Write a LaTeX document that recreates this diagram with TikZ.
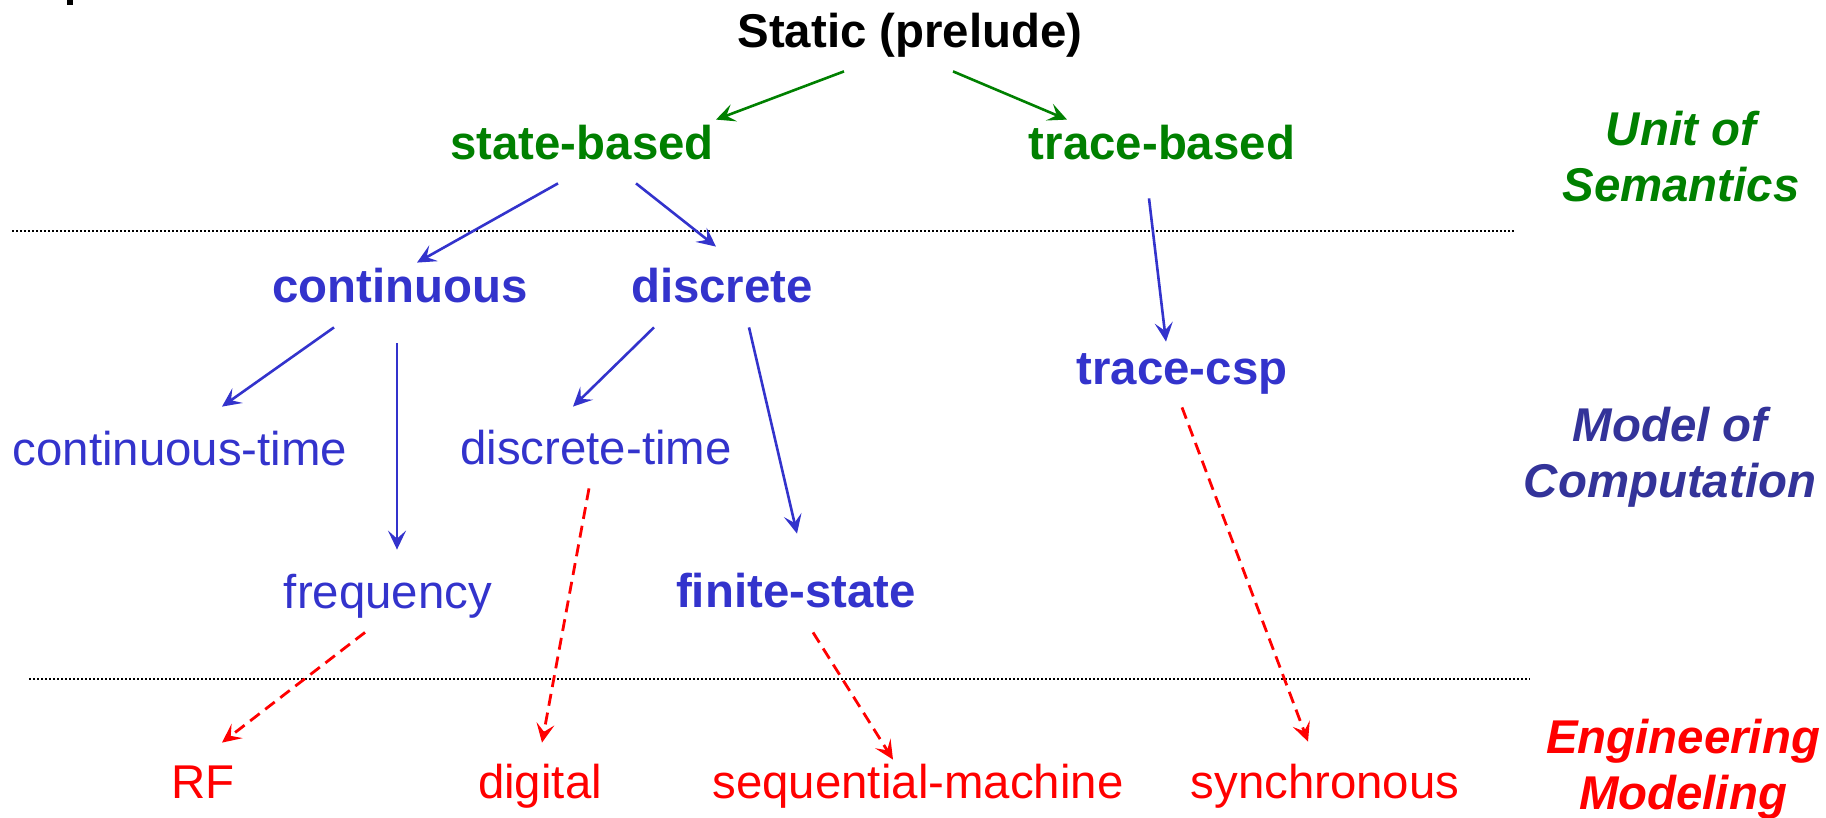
\documentclass[tikz,border=0pt]{standalone}
\usepackage{fontspec}
\setmainfont{Liberation Sans}
\usetikzlibrary{arrows.meta,calc}
\definecolor{semgreen}{RGB}{0,128,0}
\definecolor{mocblue}{RGB}{51,51,204}
\definecolor{mocdark}{RGB}{51,51,153}
\definecolor{engred}{RGB}{255,0,0}
\newcommand{\bigfont}{\fontsize{23.7}{28}\selectfont}

\begin{document}
\begin{tikzpicture}[x=0.5pt,y=-0.5pt,
  term/.style={font=\bigfont,inner sep=0pt,text height=17pt,text depth=5pt,anchor=base},
  semterm/.style={term,text=semgreen,font=\bigfont\bfseries},
  mocterm/.style={term,text=mocblue},
  mocbold/.style={mocterm,font=\bigfont\bfseries},
  engterm/.style={term,text=engred},
  tier/.style={font=\bigfont\bfseries\itshape,align=center,inner sep=0pt,anchor=north},
  greenarr/.style={draw=semgreen,line width=1.3pt,-{Stealth[length=9.5pt,width=9pt,inset=4pt]}},
  bluearr/.style={draw=mocblue,line width=1.3pt,-{Stealth[length=9.5pt,width=9pt,inset=4pt]}},
  redarr/.style={draw=engred,line width=1.4pt,dash pattern=on 6pt off 3.5pt,-{Stealth[length=9.5pt,width=9pt,inset=4pt]}},
  sepline/.style={line width=0.8pt,dash pattern=on 0.8pt off 1.2pt}]
\useasboundingbox (0,0) rectangle (1826,818);
\fill (67,0) rectangle (73,5);

\node(static) [term,font=\bigfont\bfseries] at (910,48) {Static (prelude)};
\node(statebased) [semterm] at (582,160) {state-based};
\node(tracebased) [semterm] at (1162,160) {trace-based};
\node(continuous) [mocbold] at (400,303) {continuous};
\node(discrete) [mocbold] at (722,303) {discrete};
\node(tracecsp) [mocbold] at (1182,384) {trace-csp};
\node(ctime) [mocterm] at (180,465) {continuous-time};
\node(dtime) [mocterm] at (596,464) {discrete-time};
\node(freq) [mocterm] at (388,608) {frequency};
\node(finite) [mocbold] at (796,607) {finite-state};
\node(rf) [engterm] at (203,798) {RF};
\node(digital) [engterm] at (540,798) {digital};
\node(seqm) [engterm] at (918,798) {sequential-machine};
\node(sync) [engterm] at (1325,798) {synchronous};

\node(unitsem) [tier,text=semgreen] at (1681,111) {Unit of\\Semantics};
\node(moc) [tier,text=mocdark] at (1670,407) {Model of\\Computation};
\node(engmod) [tier,text=engred] at (1683,719) {Engineering\\Modeling};

\draw[sepline] (12,231) -- (1514,231);
\draw[sepline] (29,679) -- (1530,679);

\draw[greenarr] ($(static.south)+(-66,13)$) -- ($(statebased.north)+(134,-6)$);
\draw[greenarr] ($(static.south)+(43,13)$) -- ($(tracebased.north)+(-95,-6)$);
\draw[bluearr] ($(statebased.south)+(-24,13)$) -- ($(continuous.north)+(17,-6)$);
\draw[bluearr] ($(statebased.south)+(54,13)$) -- ($(discrete.north)+(-6,-22)$);
\draw[bluearr] ($(tracebased.south)+(-13,28)$) -- ($(tracecsp.north)+(-16,-8)$);
\draw[bluearr] ($(continuous.south)+(-66,14)$) -- ($(ctime.north)+(42,-24)$);
\draw[bluearr] ($(continuous.south)+(-3,30)$) -- ($(freq.north)+(9,-24)$);
\draw[bluearr] ($(discrete.south)+(-68,14)$) -- ($(dtime.north)+(-23,-23)$);
\draw[bluearr] ($(discrete.south)+(27,14)$) -- ($(finite.north)+(1,-39)$);
\draw[redarr] ($(freq.south)+(-23,14)$) -- ($(rf.north)+(19,-21)$);
\draw[redarr] ($(dtime.south)+(-7,14)$) -- ($(digital.north)+(2,-21)$);
\draw[redarr] ($(finite.south)+(17,15)$) -- ($(seqm.north)+(-25,-4)$);
\draw[redarr] ($(tracecsp.south)+(0,13)$) -- ($(sync.north)+(-17,-22)$);
\end{tikzpicture}
\end{document}
